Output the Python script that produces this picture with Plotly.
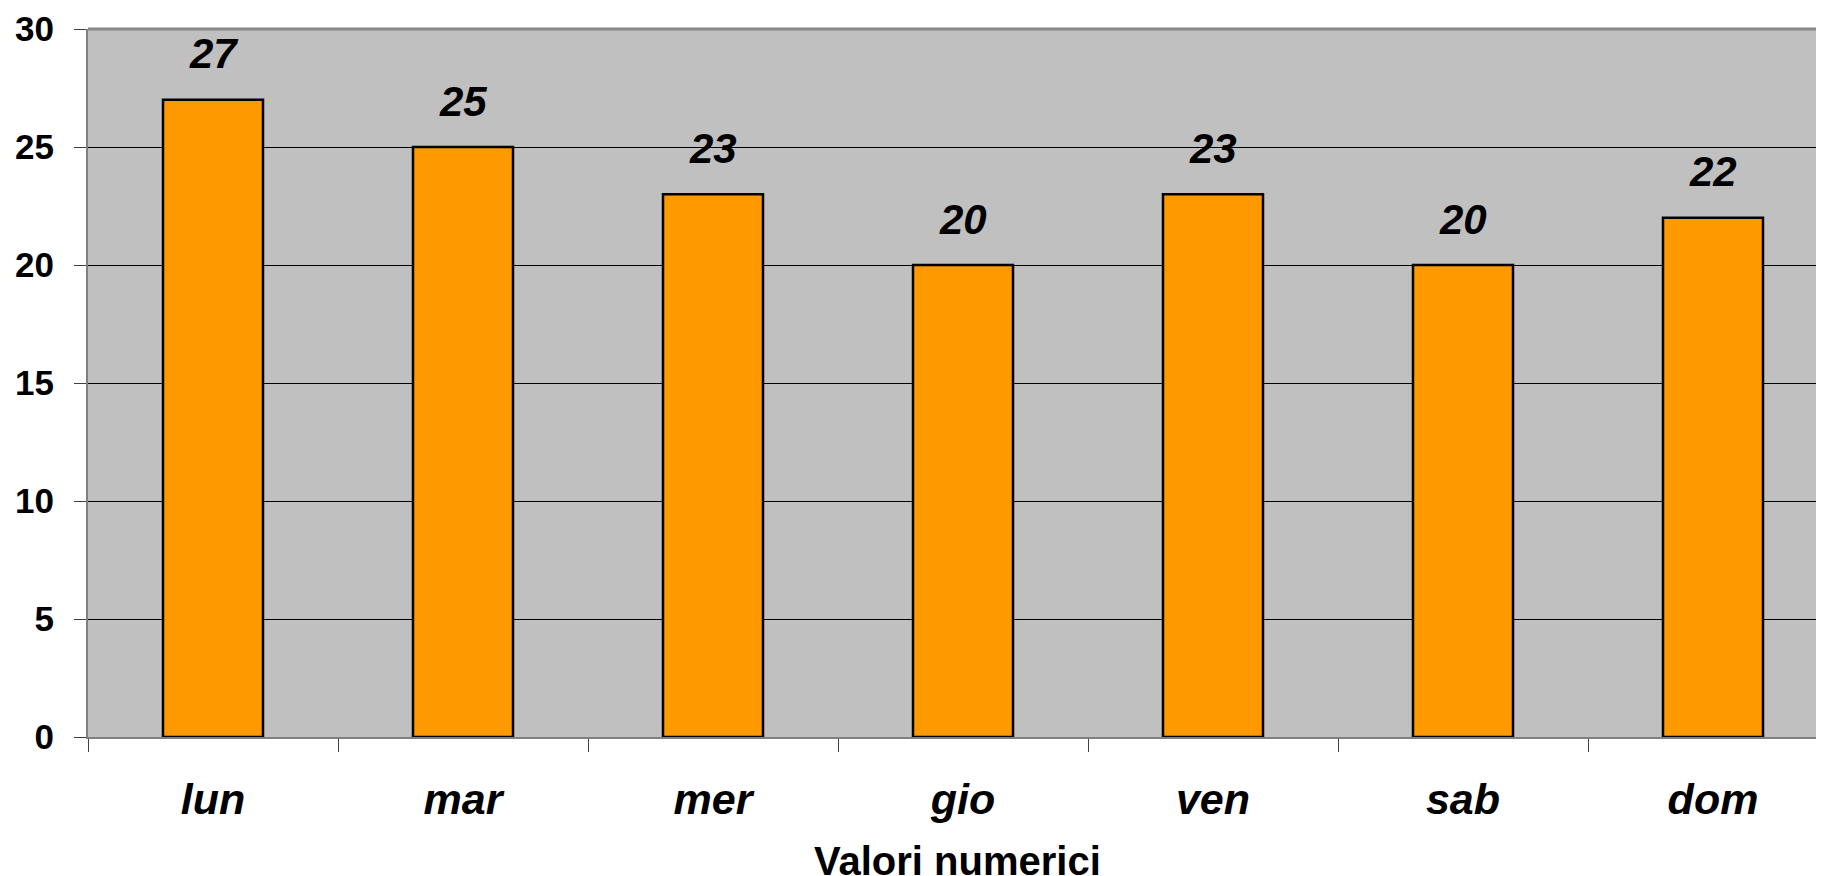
import plotly.graph_objects as go

categories = ["lun", "mar", "mer", "gio", "ven", "sab", "dom"]
values = [27, 25, 23, 20, 23, 20, 22]
y_ticks = [0, 5, 10, 15, 20, 25, 30]
x_title = "Valori numerici"

FONT = "Arial, 'Liberation Sans', sans-serif"

fig = go.Figure()
fig.add_trace(go.Bar(
    x=categories, y=values, width=0.4,
    marker=dict(color="#FF9900", line=dict(color="#000000", width=2.5)),
    showlegend=False, hoverinfo="x+y",
))

for c, v in zip(categories, values):
    fig.add_annotation(
        x=c, y=v, xref="x", yref="y", text=str(v), showarrow=False,
        yanchor="middle", yshift=46,
        font=dict(family=FONT, size=42, color="#000000", weight="bold", style="italic"),
    )

fig.add_annotation(
    x=0.501, y=-0.175, xref="paper", yref="paper", text=x_title, showarrow=False,
    xanchor="center", yanchor="middle",
    font=dict(family=FONT, size=40, color="#000000", weight="bold"),
)

fig.add_shape(type="line", xref="paper", yref="paper", x0=0, x1=1, y0=1, y1=1,
              line=dict(color="#888888", width=3), layer="above")

fig.update_layout(
    width=1816, height=868,
    margin=dict(l=80, r=0, t=21, b=139, pad=0, autoexpand=False),
    paper_bgcolor="#FFFFFF", plot_bgcolor="#C0C0C0",
    font=dict(family=FONT, color="#000000"),
    xaxis=dict(
        type="category", range=[-0.5, -0.5 + (1816 - 80) / 250.0], automargin=False,
        tickson="boundaries", ticks="outside", ticklen=13, tickcolor="#404040", tickwidth=1,
        showgrid=False, showline=True, linecolor="#808080", linewidth=2,
        tickfont=dict(family=FONT, size=43, color="#000000", weight="bold", style="italic"),
        ticklabelstandoff=23,
    ),
    yaxis=dict(
        range=[0, 30], tickvals=y_ticks, ticktext=[str(t) for t in y_ticks], automargin=False,
        ticks="outside", ticklen=12, tickcolor="#404040", tickwidth=1,
        showgrid=True, gridcolor="#000000", gridwidth=1, zeroline=False,
        showline=True, linecolor="#808080", linewidth=2,
        tickfont=dict(family=FONT, size=35, color="#000000", weight="bold"),
        ticklabelstandoff=13,
    ),
)

fig.write_html("out.html")
